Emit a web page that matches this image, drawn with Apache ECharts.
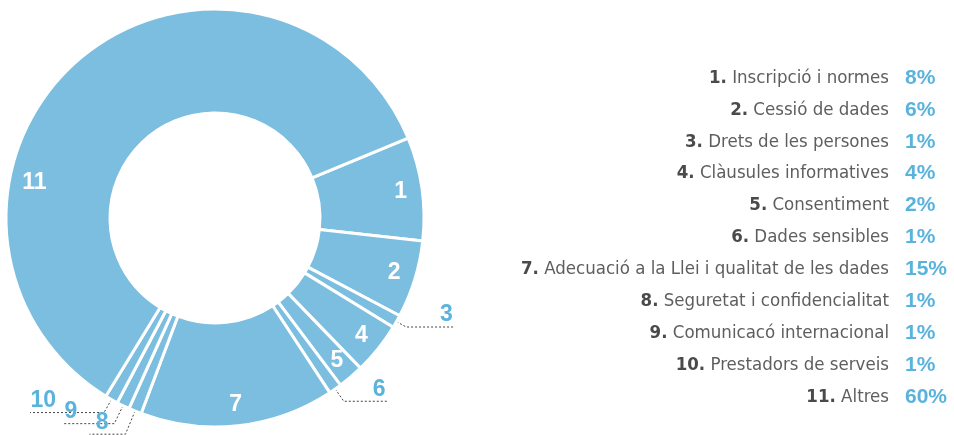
<!DOCTYPE html>
<html>
<head>
<meta charset="utf-8">
<script src="https://cdn.jsdelivr.net/npm/echarts@6/dist/echarts.min.js"></script>
<style>html,body{margin:0;padding:0;background:#fff}#c{width:954px;height:435px}</style>
</head>
<body>
<div id="c"></div>
<script>
// ---- data ----
const categories = [
  'Inscripció i normes',
  'Cessió de dades',
  'Drets de les persones',
  'Clàusules informatives',
  'Consentiment',
  'Dades sensibles',
  'Adecuació a la Llei i qualitat de les dades',
  'Seguretat i confidencialitat',
  'Comunicacó internacional',
  'Prestadors de serveis',
  'Altres'
];
const values = [8, 6, 1, 4, 2, 1, 15, 1, 1, 1, 60];
const sliceLabels = ['1', '2', '3', '4', '5', '6', '7', '8', '9', '10', '11'];
const insideLabelled = [true, true, false, true, true, false, true, false, false, false, true];

// ---- styling ----
const SLICE = '#7bbee0';
const BLUE = '#5ab3dc';
const CENTER = [215, 218];
const narrow = "'Liberation Sans Narrow', 'DejaVu Sans Condensed', 'Liberation Sans', sans-serif";
const boldFont = "'Liberation Sans', 'Open Sans', sans-serif";
// leader line settings for the small outside-labelled slices (index -> style)
const leader = {
  2: {l1: 11, l2: 49, d: -15},
  5: {l1: 15, l2: 44, d: -15},
  7: {l1: 25, l2: 36, d: -19},
  8: {l1: 20, l2: 52, d: -15},
  9: {l1: 15, l2: 74, d: -26}
};

const mainData = values.map((v, i) => {
  const item = {value: v, name: categories[i]};
  const o = leader[i];
  if (o) {
    item.label = {
      show: true, position: 'outside', formatter: '{a|' + sliceLabels[i] + '}',
      distanceToLabelLine: o.d,
      rich: {a: {color: BLUE, fontSize: 23, fontWeight: 'bold', fontFamily: boldFont, padding: [0, 0, 24, 0]}}
    };
    item.labelLine = {
      show: true, length: o.l1, length2: o.l2, smooth: false,
      lineStyle: {color: '#444', width: 1, type: [2, 2]}
    };
  }
  return item;
});

const labelData = values.map((v, i) => ({
  value: v, name: categories[i], label: {show: insideLabelled[i]}
}));

const LH = 31.9;
const chart = echarts.init(document.getElementById('c'), null, {renderer: 'canvas'});
chart.setOption({
  animation: false,
  backgroundColor: '#fff',
  title: [
    {
      left: 889, top: 62, padding: 0, textAlign: 'right',
      text: categories.map((c, i) => `{n|${i + 1}.}{t| ${c}}`).join('\n'),
      textStyle: {
        lineHeight: LH, fontSize: 18.5, fontFamily: narrow, color: '#5e5e5e', fontWeight: 'normal',
        rich: {
          n: {fontFamily: narrow, fontWeight: 'bold', fontSize: 18.5, color: '#4a4a4a', lineHeight: LH},
          t: {fontFamily: narrow, fontWeight: 'normal', fontSize: 18.5, color: '#5e5e5e', lineHeight: LH}
        }
      }
    },
    {
      left: 905, top: 62, padding: 0,
      text: values.map(v => `${v}%`).join('\n'),
      textStyle: {lineHeight: LH, fontSize: 21, fontFamily: boldFont, fontWeight: 'bold', color: BLUE}
    }
  ],
  series: [
    {
      type: 'pie', center: CENTER, radius: [105, 209], startAngle: 22.5, clockwise: true,
      avoidLabelOverlap: false, silent: true, emphasis: {disabled: true},
      itemStyle: {color: SLICE, borderColor: '#fff', borderWidth: 3},
      label: {show: false}, labelLine: {show: false},
      data: mainData
    },
    {
      type: 'pie', center: CENTER, radius: [160, 209], startAngle: 22.5, clockwise: true,
      avoidLabelOverlap: false, silent: true, emphasis: {disabled: true},
      itemStyle: {color: 'rgba(0,0,0,0)', borderWidth: 0},
      label: {
        position: 'inside', color: '#fff', fontSize: 23, fontWeight: 'bold', fontFamily: boldFont,
        formatter: p => sliceLabels[p.dataIndex]
      },
      labelLine: {show: false},
      labelLayout: p => {
        if (p.dataIndex === 10) {
          const a = 169 * Math.PI / 180, r = 184;
          return {x: CENTER[0] + r * Math.cos(a), y: CENTER[1] - r * Math.sin(a), align: 'center', verticalAlign: 'middle'};
        }
        return {};
      },
      data: labelData
    }
  ]
});
</script>
</body>
</html>
